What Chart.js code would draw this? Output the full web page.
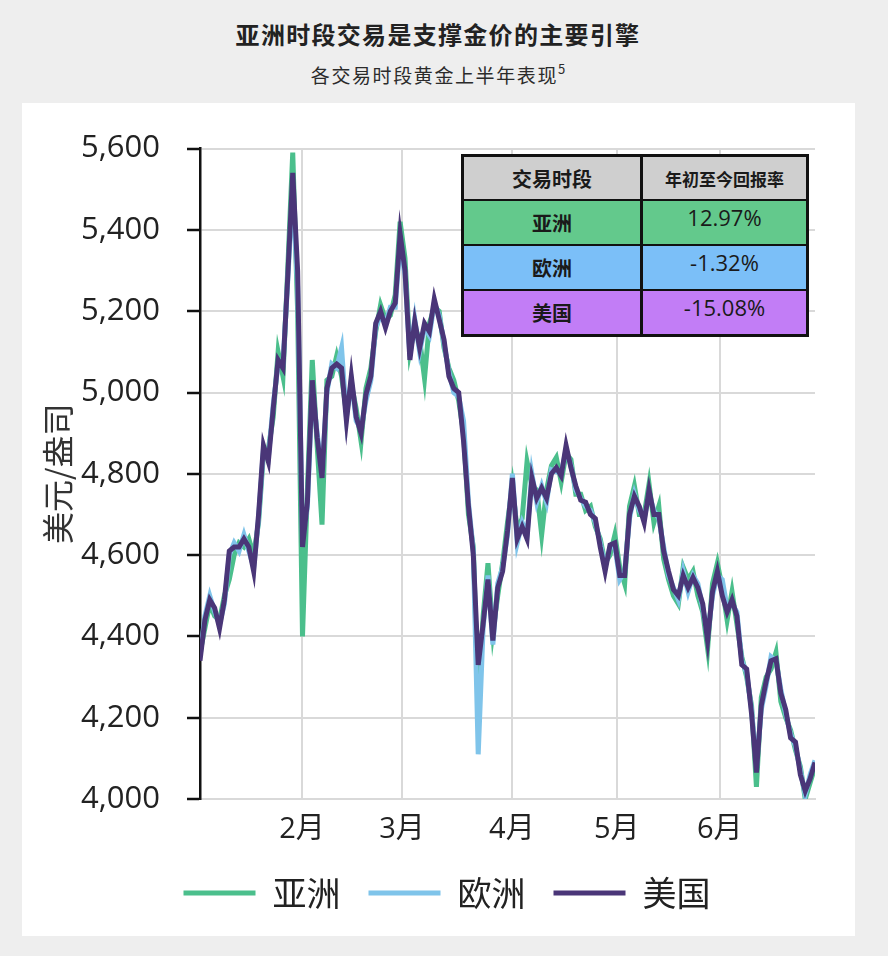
<!DOCTYPE html>
<html lang="zh-CN">
<head>
<meta charset="utf-8">
<title>亚洲时段交易是支撑金价的主要引擎</title>
<script src="https://cdn.jsdelivr.net/npm/chart.js@4.4.1/dist/chart.umd.min.js"></script>
<style>
    html, body { margin: 0; padding: 0; }
    body {
        width: 888px; height: 956px; position: relative; overflow: hidden;
        background: #eeeeee;
        font-family: "Noto Sans CJK SC", "Noto Sans", sans-serif;
    }
    .titulo {
        position: absolute; left: 0; top: 18px; width: 876px; text-align: center;
        font-size: 24px; line-height: 32px; font-weight: bold; color: #222; letter-spacing: 1.3px;
    }
    .subtitulo {
        position: absolute; left: 0; top: 58px; width: 876px; text-align: center;
        font-size: 19px; line-height: 26px; color: #2b2b2b; letter-spacing: 1.6px;
    }
    .subtitulo sup { font-size: 13px; letter-spacing: 0; position: relative; top: -2px; }
    .panel { position: absolute; left: 22px; top: 103px; width: 833px; height: 833px; background: #fff; }
    #tabla {
        position: absolute; left: 461px; top: 154px;
        border-collapse: collapse; table-layout: fixed; width: 348px;
        border: 3px solid #111; color: #1a1a1a;
    }
    #tabla td { border: 2px solid #111; text-align: center; padding: 0; }
    #tabla td.col1 { border-right-width: 3px; width: 176px; }
    #tabla tr.enc td { background: #cfcfcf; height: 42px; font-weight: bold; }
    #tabla tr.fila td { height: 42px; }
    #tabla .etq { font-size: 20px; font-weight: bold; }
    #tabla .val { font-family: "Open Sans", sans-serif; font-size: 22px; vertical-align: top; padding-top: 1px; }
</style>
</head>
<body>
<div class="titulo">亚洲时段交易是支撑金价的主要引擎</div>
<div class="subtitulo">各交易时段黄金上半年表现<sup>5</sup></div>
<div class="panel">
    <canvas id="graficaOro"></canvas>
</div>
<table id="tabla"></table>

<script>
// Datos (índice = día hábil desde el 1 de enero)
const sesiones = ['亚洲', '欧洲', '美国'];
const mesesEtiquetas = ['2月', '3月', '4月', '5月', '6月'];
const mesesInicio = [20.9, 41.4, 63.9, 85.4, 106.5];
const diasHabiles = [...Array(127).keys()];

const precioAsia = [
    4360, 4420, 4480, 4450, 4440, 4500, 4540, 4600, 4630, 4620,
    4640, 4600, 4680, 4850, 4860, 4940, 5100, 5040, 5310, 5590,
    5200, 4400, 4760, 5080, 4870, 4675, 5030, 5040, 5090, 5040,
    4950, 5020, 4960, 4880, 5010, 5060, 5150, 5215, 5180, 5190,
    5240, 5420, 5330, 5100, 5160, 5130, 5035, 5170, 5210, 5200,
    5110, 5060, 5030, 4980, 4900, 4700, 4620, 4220, 4450, 4580,
    4410, 4500, 4580, 4680, 4770, 4660, 4690, 4830, 4770, 4760,
    4650, 4760, 4820, 4840, 4780, 4850, 4835, 4750, 4750, 4710,
    4720, 4670, 4640, 4580, 4600, 4650, 4570, 4530, 4720, 4770,
    4700, 4700, 4775, 4680, 4720, 4590, 4540, 4500, 4480, 4570,
    4540, 4560, 4500, 4460, 4370, 4530, 4580, 4520, 4440, 4510,
    4430, 4350, 4300, 4230, 4030, 4250, 4300, 4320, 4360, 4240,
    4200, 4170, 4120, 4080, 4000, 4040, 4080
];
const precioEuropa = [
    4350, 4450, 4500, 4460, 4430, 4480, 4600, 4630, 4610, 4650,
    4610, 4570, 4690, 4860, 4840, 4970, 5070, 5070, 5280, 5500,
    5260, 4640, 4720, 5010, 4900, 4800, 5000, 5070, 5060, 5110,
    4940, 5030, 4930, 4910, 4980, 5030, 5160, 5190, 5170, 5210,
    5210, 5370, 5290, 5090, 5180, 5100, 5160, 5140, 5220, 5190,
    5120, 5050, 5000, 4990, 4930, 4730, 4610, 4110, 4420, 4550,
    4380, 4530, 4570, 4650, 4800, 4630, 4680, 4650, 4800, 4730,
    4770, 4730, 4810, 4805, 4800, 4860, 4820, 4760, 4740, 4720,
    4710, 4680, 4630, 4570, 4620, 4620, 4540, 4560, 4690, 4750,
    4710, 4690, 4750, 4710, 4690, 4620, 4550, 4520, 4490, 4560,
    4510, 4550, 4530, 4470, 4400, 4500, 4550, 4540, 4470, 4480,
    4460, 4340, 4310, 4220, 4080, 4220, 4280, 4350, 4340, 4270,
    4210, 4160, 4130, 4070, 4010, 4060, 4095
];
const precioAmerica = [
    4340, 4440, 4490, 4470, 4420, 4490, 4610, 4620, 4620, 4640,
    4620, 4560, 4700, 4870, 4830, 4960, 5080, 5060, 5290, 5540,
    5300, 4620, 4730, 5030, 4890, 4790, 5010, 5060, 5070, 5060,
    4930, 5040, 4940, 4900, 4995, 5040, 5170, 5200, 5160, 5200,
    5220, 5390, 5300, 5080, 5175, 5110, 5170, 5150, 5230, 5180,
    5130, 5040, 5010, 5000, 4880, 4720, 4600, 4330, 4430, 4540,
    4390, 4520, 4560, 4660, 4790, 4640, 4670, 4640, 4790, 4740,
    4765, 4740, 4800, 4815, 4795, 4870, 4815, 4770, 4735, 4730,
    4700, 4690, 4620, 4560, 4625, 4630, 4550, 4550, 4700, 4745,
    4720, 4680, 4760, 4700, 4700, 4610, 4560, 4515, 4500, 4550,
    4520, 4545, 4520, 4480, 4390, 4510, 4560, 4500, 4460, 4490,
    4450, 4330, 4320, 4210, 4065, 4230, 4290, 4340, 4345, 4260,
    4220, 4150, 4140, 4060, 4020, 4050, 4090
];

const tablaEncabezados = ['交易时段', '年初至今回报率'];
const tablaRetornos = ['12.97%', '-1.32%', '-15.08%'];

const coloresLinea = ['#4bbf8c', '#7fc4ea', '#4a3678'];
const coloresTabla = ['#63c98c', '#7bbff8', '#c27df6'];

// Tabla de rendimientos
const tabla = document.getElementById('tabla');
let html = '<tr class="enc"><td class="col1" style="font-size:20px">' + tablaEncabezados[0] +
    '</td><td style="font-size:17px">' + tablaEncabezados[1] + '</td></tr>';
sesiones.forEach((s, i) => {
    html += '<tr class="fila" style="background:' + coloresTabla[i] + '">' +
        '<td class="col1 etq">' + s + '</td><td class="val">' + tablaRetornos[i] + '</td></tr>';
});
tabla.innerHTML = html;

const series = [precioAsia, precioEuropa, precioAmerica];
const ordenDibujo = [3, 2, 1]; // 美国 encima

const fuente = '"Open Sans", "Noto Sans CJK SC", sans-serif';

const ctx = document.getElementById('graficaOro').getContext('2d');
new Chart(ctx, {
    type: 'line',
    data: {
        datasets: sesiones.map((s, i) => ({
            label: s,
            data: diasHabiles.map((d, j) => ({ x: d, y: series[i][j] })),
            borderColor: coloresLinea[i],
            backgroundColor: coloresLinea[i],
            borderWidth: 5,
            pointRadius: 0,
            tension: 0,
            order: ordenDibujo[i]
        }))
    },
    options: {
        responsive: true,
        maintainAspectRatio: false,
        animation: false,
        layout: { padding: { left: 57, right: 40, top: 44, bottom: 16 } },
        scales: {
            x: {
                type: 'linear',
                min: 0,
                max: 126,
                afterBuildTicks: s => { s.ticks = mesesInicio.map(v => ({ value: v })); },
                afterFit: s => { s.height = 49; },
                ticks: {
                    autoSkip: false,
                    maxRotation: 0,
                    padding: 13,
                    color: '#222',
                    font: { family: fuente, size: 29 },
                    callback: (v, i) => mesesEtiquetas[i]
                },
                grid: { color: '#d9d9d9', lineWidth: 2, drawTicks: false },
                border: { color: '#d9d9d9', width: 2 }
            },
            y: {
                min: 4000,
                max: 5600,
                afterFit: s => { s.width = 121; },
                ticks: {
                    stepSize: 200,
                    padding: 27,
                    color: '#222',
                    font: { family: fuente, size: 31 },
                    callback: v => v.toLocaleString('en-US')
                },
                grid: { color: '#d9d9d9', lineWidth: 2, tickColor: '#111', tickWidth: 2.5, tickLength: 13 },
                border: { color: '#111', width: 2.5 },
                title: {
                    display: true,
                    text: '美元/盎司',
                    color: '#333',
                    font: { family: '"Noto Sans CJK SC", sans-serif', size: 32 },
                    padding: { top: -40, bottom: 0 }
                }
            }
        },
        plugins: {
            legend: {
                position: 'bottom',
                labels: {
                    usePointStyle: true,
                    pointStyle: 'line',
                    pointStyleWidth: 72,
                    padding: 28,
                    color: '#222',
                    font: { family: '"Noto Sans CJK SC", sans-serif', size: 34 },
                    sort: (a, b) => a.datasetIndex - b.datasetIndex
                }
            },
            tooltip: { enabled: false }
        }
    }
});
</script>
</body>
</html>
